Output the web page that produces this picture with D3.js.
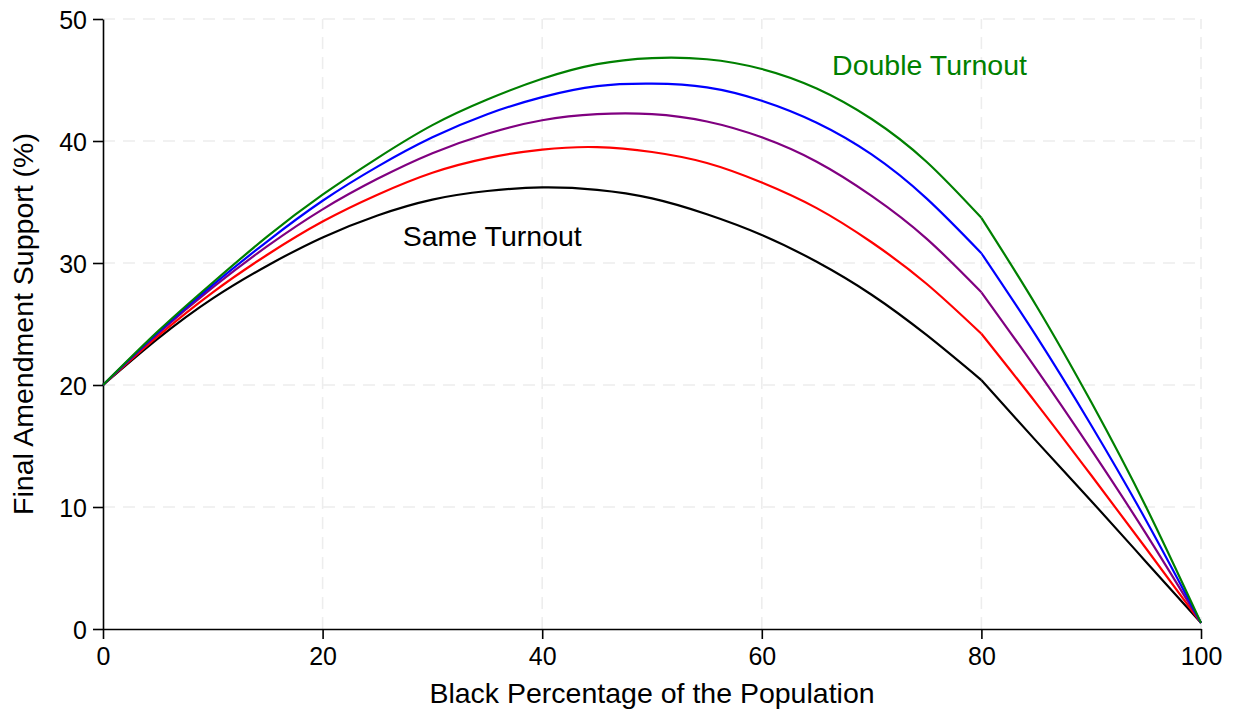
<!DOCTYPE html>
<html>
<head>
<meta charset="utf-8">
<script src="https://cdn.jsdelivr.net/npm/d3@7"></script>
<style>
  body { margin: 0; background: #fff; }
  text { font-family: "Liberation Sans", Arial, Helvetica, sans-serif; }
</style>
</head>
<body>
<svg id="chart" width="1235" height="711"></svg>
<script>
// black share of the population (%)
var blackPct = [0, 5, 10, 15, 20, 25, 30, 35, 40, 45, 50, 55, 60, 65, 70, 75, 80, 85, 90, 95, 100]

// final amendment support (%), one array per turnout scenario
var sameTurnout = [20.0, 23.8, 27.1, 29.8, 32.1, 33.9, 35.2, 35.9, 36.2, 36.0, 35.3, 34.0, 32.3, 30.1, 27.4, 24.1, 20.4, 15.4, 10.5, 5.5, 0.5]
var turnout125 = [20.0, 24.0, 27.6, 30.7, 33.4, 35.6, 37.4, 38.6, 39.3, 39.5, 39.1, 38.2, 36.6, 34.5, 31.7, 28.3, 24.2, 18.5, 12.6, 6.6, 0.5]
var turnout150 = [20.0, 24.2, 28.0, 31.4, 34.4, 36.9, 39.0, 40.6, 41.7, 42.2, 42.2, 41.6, 40.3, 38.3, 35.5, 32.0, 27.6, 21.3, 14.7, 7.8, 0.5]
var turnout175 = [20.0, 24.3, 28.2, 31.8, 35.1, 37.9, 40.3, 42.2, 43.6, 44.5, 44.7, 44.4, 43.3, 41.5, 38.9, 35.3, 30.8, 24.0, 16.7, 8.9, 0.5]
var doubleTurnout = [20.0, 24.4, 28.4, 32.2, 35.6, 38.6, 41.3, 43.4, 45.1, 46.3, 46.8, 46.7, 45.9, 44.3, 41.8, 38.3, 33.7, 26.5, 18.6, 10.0, 0.5]

var seriesValues = [sameTurnout, turnout125, turnout150, turnout175, doubleTurnout]
var seriesColors = ['#000000', '#ff0000', '#800080', '#0000ff', '#008000']

var xTicks = [0, 20, 40, 60, 80, 100]
var yTicks = [0, 10, 20, 30, 40, 50]

var svg = d3.select('#chart')
var margin = { left: 103, right: 34, top: 19, bottom: 82 }
var width = +svg.attr('width')
var height = +svg.attr('height')

var x = d3.scaleLinear().domain([0, 100]).range([margin.left, width - margin.right])
var y = d3.scaleLinear().domain([0, 50]).range([height - margin.bottom, margin.top])

// dashed grid
svg.append('g')
  .selectAll('line')
  .data(xTicks.filter(function (d) { return d > 0 }))
  .enter().append('line')
    .attr('x1', function (d) { return x(d) })
    .attr('x2', function (d) { return x(d) })
    .attr('y1', y(0))
    .attr('y2', y(50))
    .attr('stroke', '#ededed')
    .attr('stroke-width', 1.6)
    .attr('stroke-dasharray', '12,8')

svg.append('g')
  .selectAll('line')
  .data(yTicks.filter(function (d) { return d > 0 }))
  .enter().append('line')
    .attr('x1', x(0))
    .attr('x2', x(100))
    .attr('y1', function (d) { return y(d) })
    .attr('y2', function (d) { return y(d) })
    .attr('stroke', '#ededed')
    .attr('stroke-width', 1.6)
    .attr('stroke-dasharray', '12,8')

// axes
var xAxis = svg.append('g')
  .attr('transform', 'translate(0,' + y(0) + ')')
  .call(d3.axisBottom(x).tickValues(xTicks).tickSize(10).tickPadding(8).tickSizeOuter(0))
var yAxis = svg.append('g')
  .attr('transform', 'translate(' + x(0) + ',0)')
  .call(d3.axisLeft(y).tickValues(yTicks).tickSize(10).tickPadding(6).tickSizeOuter(0))

;[xAxis, yAxis].forEach(function (a) {
  a.select('.domain').attr('stroke', '#000').attr('stroke-width', 1.6)
  a.selectAll('.tick line').attr('stroke', '#000').attr('stroke-width', 1.6)
  a.selectAll('.tick text')
    .attr('fill', '#000')
    .style('font-size', '25px')
    .style('font-family', '"Liberation Sans", Arial, sans-serif')
})
yAxis.selectAll('.tick text').attr('dy', '0.36em')

// lines: the curves have a kink at 80, so draw each in two pieces
var line = d3.line()
  .x(function (d) { return x(d[0]) })
  .y(function (d) { return y(d[1]) })
  .curve(d3.curveNatural)

seriesValues.forEach(function (vals, i) {
  var pts = blackPct.map(function (b, j) { return [b, vals[j]] })
  var parts = [pts.filter(function (p) { return p[0] <= 80 }), pts.filter(function (p) { return p[0] >= 80 })]
  parts.forEach(function (part) {
    svg.append('path')
      .datum(part)
      .attr('d', line)
      .attr('fill', 'none')
      .attr('stroke', seriesColors[i])
      .attr('stroke-width', 2.2)
      .attr('stroke-linejoin', 'round')
  })
})

// annotations
svg.append('text')
  .attr('x', x(66.4))
  .attr('y', y(45.4))
  .attr('fill', '#008000')
  .style('font-size', '28.5px')
  .text('Double Turnout')

svg.append('text')
  .attr('x', x(27.3))
  .attr('y', y(31.4))
  .attr('fill', '#000')
  .style('font-size', '28.5px')
  .text('Same Turnout')

// axis titles
svg.append('text')
  .attr('x', (x(0) + x(100)) / 2)
  .attr('y', 703)
  .attr('text-anchor', 'middle')
  .style('font-size', '28.5px')
  .text('Black Percentage of the Population')

svg.append('text')
  .attr('transform', 'translate(33,' + (y(0) + y(50)) / 2 + ') rotate(-90)')
  .attr('text-anchor', 'middle')
  .style('font-size', '28.5px')
  .text('Final Amendment Support (%)')
</script>
</body>
</html>
